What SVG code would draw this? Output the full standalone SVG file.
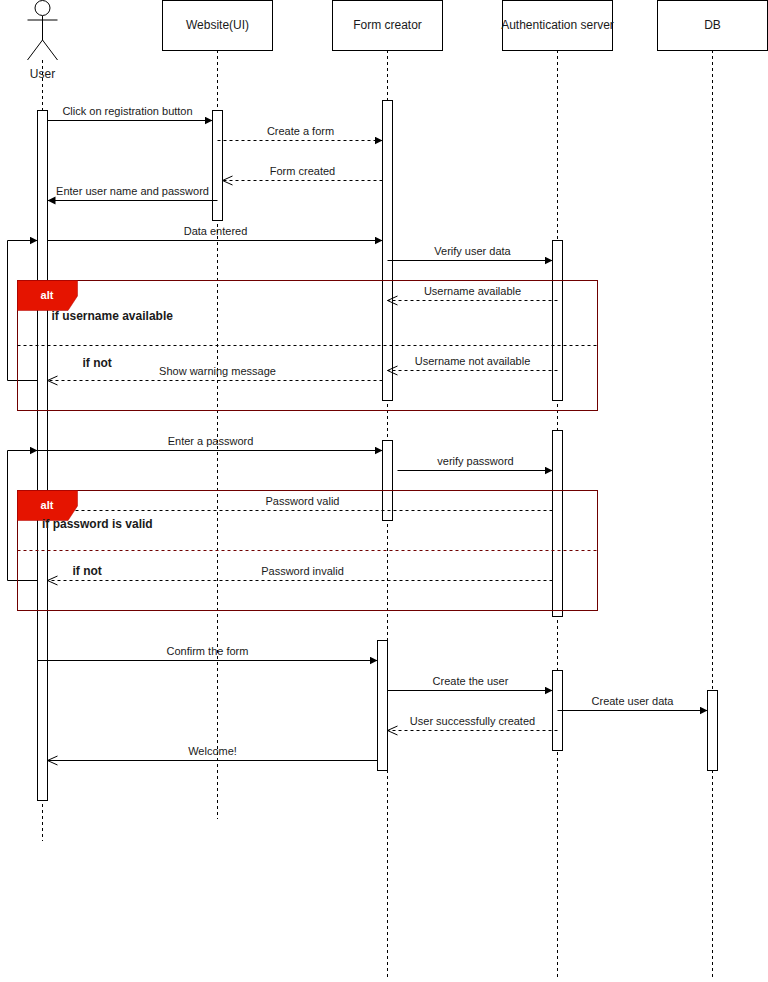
<svg xmlns="http://www.w3.org/2000/svg" width="768" height="982" viewBox="0 0 768 982">
<style>
text{font-family:"Liberation Sans",Arial,sans-serif;fill:#1a1a1a}
.m{font-size:11px;text-anchor:middle}
.h{font-size:12px;text-anchor:middle}
.b{font-size:12px;font-weight:bold}
.alt{font-size:11px;font-weight:bold;text-anchor:middle}
.box,.act{fill:#fff;stroke:#000;stroke-width:1}
.life{fill:none;stroke:#000;stroke-width:1;stroke-dasharray:3 3}
.line{fill:none;stroke:#000;stroke-width:1}
.dash{stroke-dasharray:3 3}
.fill{marker-end:url(#block)}
.open{marker-end:url(#open)}
.frame{fill:none;stroke:#6f0000;stroke-width:1}
.tag{fill:#e51400;stroke:#b20000;stroke-width:.5}
</style>
<defs>
<marker id="block" markerUnits="userSpaceOnUse" markerWidth="10" markerHeight="10" refX="8" refY="4" orient="auto"><path d="M0 0L8 4L0 8Z" fill="#000"/></marker>
<marker id="open" markerUnits="userSpaceOnUse" markerWidth="12" markerHeight="12" refX="10.500" refY="5" orient="auto"><path d="M0.500 0.500L10.500 5L0.500 9.500" fill="none" stroke="#000" stroke-width="1"/></marker>
</defs>
<rect width="768" height="982" fill="#fff"/>
<g id="user">
<path class="life" d="M42.500 60V841"/>
<circle cx="42.500" cy="8" r="7.500" fill="#fff" stroke="#000"/>
<path class="line" d="M42.500 16V40M27.500 20H57.500M27.500 60L42.500 40L57.500 60"/>
<text class="h" x="42.500" y="78">User</text>
<rect class="act" x="37.500" y="110.500" width="10" height="690"/>
</g>
<g id="website">
<path class="life" d="M217.500 50V819"/>
<rect class="box" x="162.500" y="0.500" width="110" height="50"/>
<text class="h" x="217.500" y="29">Website(UI)</text>
<rect class="act" x="212.500" y="110.500" width="10" height="110"/>
</g>
<g id="form-creator">
<path class="life" d="M387.500 50V978"/>
<rect class="box" x="332.500" y="0.500" width="110" height="50"/>
<text class="h" x="387.500" y="29">Form creator</text>
<rect class="act" x="382.500" y="100.500" width="10" height="300"/>
<rect class="act" x="382.500" y="440.500" width="10" height="80"/>
<rect class="act" x="377.500" y="640.500" width="10" height="130"/>
</g>
<g id="auth-server">
<path class="life" d="M557.500 50V980"/>
<rect class="box" x="502.500" y="0.500" width="110" height="50"/>
<text class="h" x="557.500" y="29">Authentication server</text>
<rect class="act" x="552.500" y="240.500" width="10" height="160"/>
<rect class="act" x="552.500" y="430.500" width="10" height="186"/>
<rect class="act" x="552.500" y="670.500" width="10" height="80"/>
</g>
<g id="db">
<path class="life" d="M712.500 50V978"/>
<rect class="box" x="657.500" y="0.500" width="110" height="50"/>
<text class="h" x="712.500" y="29">DB</text>
<rect class="act" x="707.500" y="690.500" width="10" height="80"/>
</g>
<g id="connectors">
<path class="line fill" d="M47.500 120.500H212.500"/>
<path class="line dash fill" d="M217.500 140.500H382.500"/>
<path class="line dash open" d="M382.500 180.500H222.500"/>
<path class="line fill" d="M217.500 200.500H47.500"/>
<path class="line fill" d="M47.500 240.500H382.500"/>
<path class="line fill" d="M37.500 380.500H7.500V240.500H37.500"/>
<path class="line fill" d="M387.500 260.500H552.500"/>
<path class="line dash open" d="M557.500 300.500H387.500"/>
<path class="line dash open" d="M557.500 370.500H387.500"/>
<path class="line dash open" d="M382.500 380.500H47.500"/>
<path class="line fill" d="M37.500 450.500H382.500"/>
<path class="line fill" d="M37.500 580.500H7.500V450.500H37.500"/>
<path class="line fill" d="M397.500 470.500H552.500"/>
<path class="line dash open" d="M552.500 510.500H47.500"/>
<path class="line dash open" d="M552.500 580.500H47.500"/>
<path class="line fill" d="M37.500 660.500H377.500"/>
<path class="line fill" d="M387.500 690.500H552.500"/>
<path class="line fill" d="M557.500 710.500H707.500"/>
<path class="line dash open" d="M557.500 730.500H387.500"/>
<path class="line open" d="M377.500 760.500H47.500"/>
<text class="m" x="127.500" y="115">Click on registration button</text>
<text class="m" x="300.500" y="135">Create a form</text>
<text class="m" x="302.500" y="175">Form created</text>
<text class="m" x="132.500" y="195">Enter user name and password</text>
<text class="m" x="215.500" y="235">Data entered</text>
<text class="m" x="472.500" y="255">Verify user data</text>
<text class="m" x="472.500" y="295">Username available</text>
<text class="m" x="472.500" y="365">Username not available</text>
<text class="m" x="217.500" y="375">Show warning message</text>
<text class="m" x="210.500" y="445">Enter a password</text>
<text class="m" x="475.500" y="465">verify password</text>
<text class="m" x="302.500" y="505">Password valid</text>
<text class="m" x="302.500" y="575">Password invalid</text>
<text class="m" x="207.500" y="655">Confirm the form</text>
<text class="m" x="470.500" y="685">Create the user</text>
<text class="m" x="632.500" y="705">Create user data</text>
<text class="m" x="472.500" y="725">User successfully created</text>
<text class="m" x="212.500" y="755">Welcome!</text>
</g>
<g id="alt-1">
<rect class="frame" x="17.500" y="280.500" width="580" height="130"/>
<path class="line dash" d="M17.500 345.500H597.500"/>
<path class="tag" d="M17.500 280.500H77.500V296L68 310.500H17.500Z"/>
<text class="alt" x="47" y="299" style="fill:#fff">alt</text>
<text class="b" x="51.500" y="320">if username available</text>
<text class="b" x="82.500" y="367">if not</text>
</g>
<g id="alt-2">
<rect class="frame" x="17.500" y="490.500" width="580" height="120"/>
<path class="frame dash" d="M17.500 550.500H597.500"/>
<path class="tag" d="M17.500 490.500H77.500V506L68 520.500H17.500Z"/>
<text class="alt" x="47" y="509" style="fill:#fff">alt</text>
<text class="b" x="42" y="528">if password is valid</text>
<text class="b" x="72.500" y="575">if not</text>
</g>
</svg>
